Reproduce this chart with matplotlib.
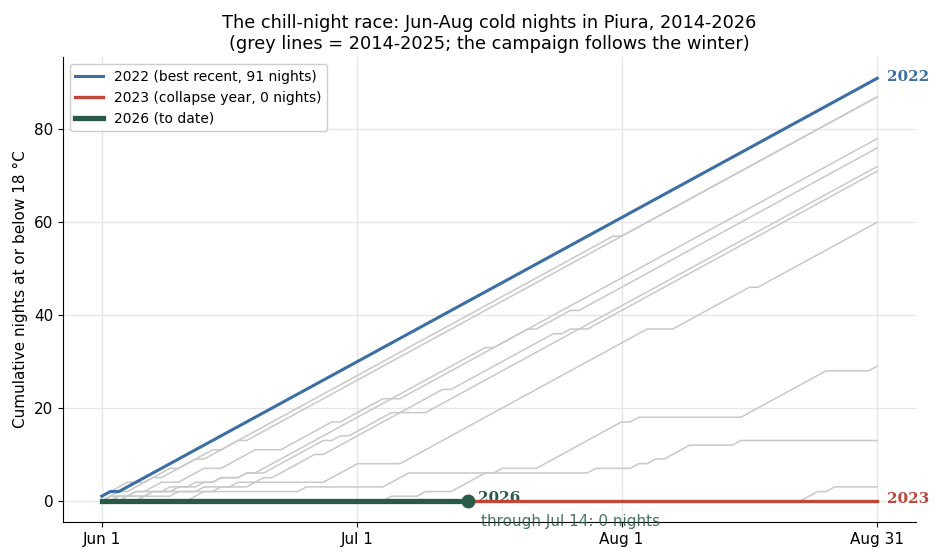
import numpy as np
import matplotlib
matplotlib.use("Agg")
import matplotlib.pyplot as plt

plt.rcParams["font.family"] = ["DejaVu Sans"]

# ---- data: daily cold-night flags (1 = night at or below 18 C), Jun 1 .. Aug 31 (92 nights)
tick_days = [0, 30, 61, 91]
tick_labels = ["Jun 1", "Jul 1", "Aug 1", "Aug 31"]

flags_2022 = "1101111111 1111111111 1111111111 1111111111 1111111111 1111111111 1111111111 1111111111 1111111111 11"
flags_2023 = "0000000000 0000000000 0000000000 0000000000 0000000000 0000000000 0000000000 0000000000 0000000000 00"
flags_2026 = "0000000000 0000000000 0000000000 0000000000 0000"   # through Jul 14

grey_flags = {
    "2014": "1111001110 1111011111 1111111111 1111111111 1111111111 1111111111 1011111111 1111111111 1111111111 11",
    "2015": "0110111011 1101111011 1111111111 1111111111 1111111111 1111111111 1111111111 1111111111 1111111111 11",
    "2016": "0010101100 1110011110 0011111101 1111001111 1111111111 1111111111 1111111111 1111111111 1111111111 11",
    "2017": "0001001001 0010100101 1111111111 1111111111 1111110111 1011110111 1111111111 1111111111 1111111111 11",
    "2018": "0100100010 0100100100 1111111010 1111100001 1111111111 1111111111 1111111111 1111111111 1111111111 11",
    "2019": "0010001000 0010001001 0111110111 1111111111 1011111111 1111010011 1111111111 1111111111 1111111111 11",
    "2020": "0000010001 0000100010 0000000111 1000001111 1111111111 1111111111 1111100011 1111111011 1111111111 11",
    "2021": "0000000000 0110000000 0000100000 0000111000 0000000100 0011111111 1101000000 0000001111 1111110000 01",
    "2024": "0000000000 0000000000 0000000000 0000100010 0011110000 0000000010 0001010111 0000010000 0000000000 00",
    "2025": "0000000000 0000000000 0000000000 0000000000 0000000000 0000000000 0000000000 0000000000 0001101000 00",
}

def cumulative(flags):
    vals = np.array([int(c) for c in flags.replace(" ", "")])
    return np.cumsum(vals)

BLUE = "#3b6ea5"
RED = "#c0463a"
GREEN = "#2a5a47"
GREY = "#c8c8c8"

fig = plt.figure(figsize=(9.36, 5.6), dpi=100)
ax = fig.add_axes([0.0673, 0.0679, 0.9113, 0.830])

for yr, fl in grey_flags.items():
    c = cumulative(fl)
    ax.plot(np.arange(len(c)), c, color=GREY, lw=1.1, zorder=2)

c22 = cumulative(flags_2022)
c23 = cumulative(flags_2023)
c26 = cumulative(flags_2026)
ax.plot(np.arange(len(c22)), c22, color=BLUE, lw=2.2, zorder=4,
        label="2022 (best recent, 91 nights)")
ax.plot(np.arange(len(c23)), c23, color=RED, lw=2.4, zorder=4,
        label="2023 (collapse year, 0 nights)")
d26 = np.arange(len(c26))
ax.plot(d26, c26, color=GREEN, lw=3.8, zorder=5, label="2026 (to date)")
ax.plot(d26[-1], c26[-1], "o", color=GREEN, ms=9, zorder=6)

ax.annotate("2022", (len(c22) - 1, c22[-1]), xytext=(7, 1), textcoords="offset points",
            color=BLUE, fontsize=11, fontweight="bold", family="DejaVu Serif", va="center")
ax.annotate("2023", (len(c23) - 1, c23[-1]), xytext=(7, 1), textcoords="offset points",
            color=RED, fontsize=11, fontweight="bold", family="DejaVu Serif", va="center")
ax.annotate("2026", (d26[-1], c26[-1]), xytext=(7, 2), textcoords="offset points",
            color=GREEN, fontsize=11, fontweight="bold", family="DejaVu Serif", va="center")
ax.annotate("through Jul 14: 0 nights", (d26[-1], c26[-1]), xytext=(9, -15),
            textcoords="offset points", color=GREEN, fontsize=11, alpha=0.85,
            va="center", ha="left")

ax.set_xticks(tick_days)
ax.set_xticklabels(tick_labels, fontsize=11)
ax.set_yticks([0, 20, 40, 60, 80])
ax.tick_params(axis="y", labelsize=11)
ax.set_xlim(-4.55, 95.55)
ax.set_ylim(-4.55, 95.55)
ax.grid(True, color="#e6e6e6", lw=1.0, zorder=0)
ax.set_axisbelow(True)
for s in ["top", "right"]:
    ax.spines[s].set_visible(False)
ax.set_ylabel("Cumulative nights at or below 18 \u00b0C", fontsize=11)
ax.set_title("The chill-night race: Jun-Aug cold nights in Piura, 2014-2026\n"
             "(grey lines = 2014-2025; the campaign follows the winter)", fontsize=12.8)
ax.legend(loc="upper left", fontsize=10, framealpha=1.0, edgecolor="#cccccc")

fig.savefig("out.png", dpi=100)
